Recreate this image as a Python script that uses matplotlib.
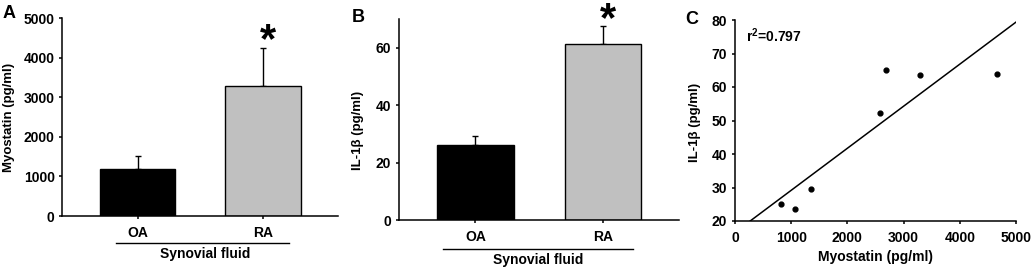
import numpy as np
import matplotlib
matplotlib.use("Agg")
import matplotlib.pyplot as plt
import matplotlib.transforms as mtransforms

plt.rcParams['font.family'] = ['Liberation Sans', 'DejaVu Sans']
plt.rcParams['font.weight'] = 'bold'
plt.rcParams['axes.labelweight'] = 'bold'
plt.rcParams['font.size'] = 10
plt.rcParams['axes.labelsize'] = 9.5
plt.rcParams['mathtext.fontset'] = 'custom'
plt.rcParams['mathtext.rm'] = 'Liberation Sans:bold'
plt.rcParams['axes.linewidth'] = 1.1
plt.rcParams['xtick.major.width'] = 1.1
plt.rcParams['ytick.major.width'] = 1.1
plt.rcParams['xtick.major.size'] = 2.5
plt.rcParams['ytick.major.size'] = 2.5

# data
groups = ['OA', 'RA']
bar_colors = ['black', '#c0c0c0']
myostatin_mean = [1200, 3300]
myostatin_sem = [320, 950]
il1b_mean = [26.2, 61.2]
il1b_sem = [3.0, 6.2]

scatter_myostatin = [813, 1062, 1358, 2580, 2681, 3286, 4657]
scatter_il1b = [25.0, 23.6, 29.5, 52.1, 65.1, 63.5, 63.8]
r2_text = '0.797'

W, H = 1034, 270
fig = plt.figure(figsize=(W / 100, H / 100), dpi=100)


def px_axes(left, top, right, bottom):
    return fig.add_axes([left / W, 1 - bottom / H, (right - left) / W, (bottom - top) / H])


def style(ax):
    ax.spines['top'].set_visible(False)
    ax.spines['right'].set_visible(False)
    ax.tick_params(direction='out', pad=3)
    for lab in ax.get_xticklabels() + ax.get_yticklabels():
        lab.set_fontweight('bold')


def bar_panel(ax, means, sems, ylim, yticks, ylabel, ylabel_xy, line_x, label_y, xlabel_x, star_off):
    x = np.arange(len(groups))
    ax.bar(x, means, width=0.6, color=bar_colors, edgecolor='black', linewidth=1.0, zorder=2)
    ax.errorbar(x, means, yerr=[np.zeros(len(sems)), sems], fmt='none', ecolor='black',
                elinewidth=1.0, capsize=2.5, capthick=1.0, zorder=1)
    ax.set_xlim(-0.6, 1.6)
    ax.set_ylim(*ylim)
    ax.set_yticks(yticks)
    ax.set_xticks(x)
    ax.set_xticklabels(groups)
    ax.set_ylabel(ylabel)
    ax.yaxis.set_label_coords(*ylabel_xy)
    style(ax)
    ax.tick_params(axis='x', pad=5)
    trans = mtransforms.blended_transform_factory(ax.transData, ax.transAxes)
    ax.plot(line_x, [label_y, label_y], color='black', lw=1.0, transform=trans, clip_on=False)
    ax.text(xlabel_x, label_y - 0.055, 'Synovial fluid', transform=ax.transAxes,
            ha='center', va='center')
    ax.annotate('*', xy=(1.04, means[1] + sems[1]), xytext=(0, star_off),
                textcoords='offset points', ha='center', va='center', fontsize=30,
                annotation_clip=False)


# panel A
axA = px_axes(62.3, 18.3, 338.3, 216)
bar_panel(axA, myostatin_mean, myostatin_sem, (0, 5000), range(0, 5001, 1000),
          'Myostatin (pg/ml)', (-0.171, 0.5), [-0.17, 1.205], -0.137, 0.517, 5)

# panel B
axB = px_axes(399, 19, 679.3, 220)
bar_panel(axB, il1b_mean, il1b_sem, (0, 70), range(0, 61, 20),
          'IL-1β (pg/ml)', (-0.125, 0.448), [-0.257, 1.233], -0.146, 0.497, 4.5)

# panel C
axC = px_axes(735, 20, 1016, 221)
axC.scatter(scatter_myostatin, scatter_il1b, s=12, color='black', zorder=3)
slope, intercept = np.polyfit(scatter_myostatin, scatter_il1b, 1)
xfit = np.array([0, 5000])
axC.plot(xfit, slope * xfit + intercept, color='black', lw=1.1)
axC.set_xlim(0, 5000)
axC.set_ylim(20, 80)
axC.set_xticks(range(0, 5001, 1000))
axC.set_yticks(range(20, 81, 10))
axC.set_xlabel('Myostatin (pg/ml)', labelpad=3, fontsize=10)
axC.set_ylabel('IL-1β (pg/ml)')
axC.yaxis.set_label_coords(-0.12, 0.49)
style(axC)
axC.tick_params(axis='x', pad=5)
axC.text(0.04, 0.92, r'$\mathrm{r^{2}}$=' + r2_text, transform=axC.transAxes, ha='left', va='center')

# panel letters
fig.text(9 / W, 1 - 13 / H, 'A', fontsize=13, ha='center', va='center')
fig.text(358 / W, 1 - 17 / H, 'B', fontsize=13, ha='center', va='center')
fig.text(692 / W, 1 - 19 / H, 'C', fontsize=13, ha='center', va='center')

fig.savefig('out.png', dpi=100)
